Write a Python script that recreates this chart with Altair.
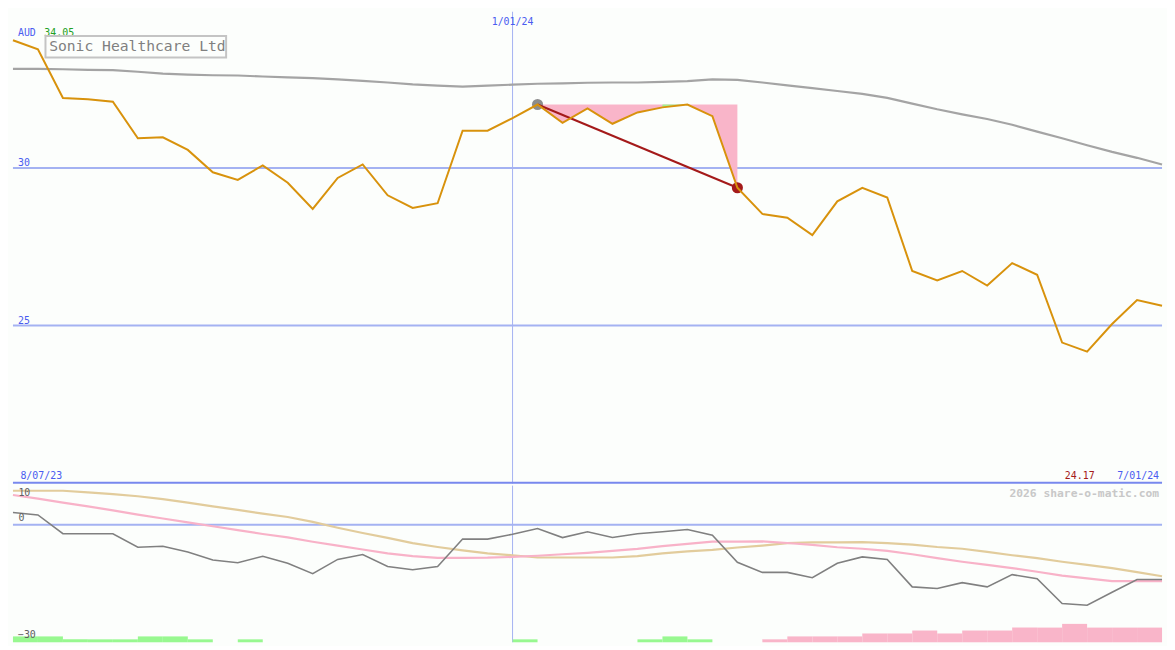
import altair as alt
import pandas as pd

# ---------------- data ----------------
idx = list(range(47))

price = [34.05, 33.76, 32.22, 32.18, 32.10, 30.94, 30.97, 30.57, 29.86, 29.62,
         30.08, 29.53, 28.70, 29.68, 30.11, 29.13, 28.73, 28.88, 31.18, 31.18,
         31.58, 32.01, 31.43, 31.89, 31.40, 31.76, 31.92, 32.01, 31.64, 29.37,
         28.54, 28.42, 27.87, 28.94, 29.37, 29.06, 26.73, 26.43, 26.73, 26.27,
         26.98, 26.61, 24.46, 24.17, 25.05, 25.81, 25.63]

long_ma = [33.14, 33.14, 33.13, 33.11, 33.10, 33.05, 32.99, 32.96, 32.94, 32.93,
           32.90, 32.87, 32.85, 32.81, 32.76, 32.71, 32.65, 32.61, 32.58, 32.61,
           32.64, 32.67, 32.68, 32.70, 32.71, 32.71, 32.73, 32.75, 32.81, 32.79,
           32.71, 32.62, 32.53, 32.44, 32.35, 32.22, 32.04, 31.86, 31.70, 31.55,
           31.37, 31.15, 30.94, 30.72, 30.51, 30.32, 30.11]

momentum = [3.16, 2.52, -2.27, -2.27, -2.27, -5.73, -5.48, -6.96, -9.01, -9.68,
            -8.02, -9.83, -12.47, -8.84, -7.60, -10.67, -11.48, -10.67, -3.65, -3.65,
            -2.42, -0.94, -3.26, -1.78, -3.26, -2.27, -1.78, -1.19, -2.67, -9.58,
            -12.15, -12.15, -13.53, -9.83, -8.20, -8.84, -15.85, -16.25, -14.77, -15.85,
            -12.72, -13.78, -20.12, -20.54, -17.23, -13.95, -13.95]

pink_ma = [7.60, 6.67, 5.68, 4.69, 3.70, 2.59, 1.60, 0.62, -0.37, -1.36,
           -2.35, -3.21, -4.32, -5.31, -6.30, -7.28, -8.02, -8.44, -8.44, -8.40,
           -8.20, -7.90, -7.53, -7.16, -6.67, -6.17, -5.43, -4.89, -4.32, -4.32,
           -4.25, -4.64, -5.14, -5.73, -6.12, -6.67, -7.53, -8.52, -9.43, -10.25,
           -11.06, -11.98, -12.96, -13.70, -14.37, -14.37, -14.37]

tan_ma = [8.69, 8.69, 8.69, 8.27, 7.85, 7.28, 6.54, 5.68, 4.69, 3.83,
          2.84, 1.98, 0.74, -0.74, -2.10, -3.33, -4.69, -5.68, -6.54, -7.28,
          -7.78, -8.35, -8.35, -8.35, -8.35, -8.02, -7.28, -6.79, -6.42, -5.80,
          -5.31, -4.69, -4.49, -4.49, -4.44, -4.69, -5.06, -5.68, -6.12, -6.91,
          -7.78, -8.52, -9.43, -10.25, -11.06, -12.10, -13.14]

# histogram at the foot of the lower panel (one bar per interval, + green / - pink)
bar_val = [1.5, 1.5, 0.75, 0.75, 0.75, 1.5, 1.5, 0.75, 0, 0.75,
           0, 0, 0, 0, 0, 0, 0, 0, 0, 0,
           0.75, 0, 0, 0, 0, 0.75, 1.5, 0.75, 0, 0,
           -0.75, -1.5, -1.5, -1.5, -2.25, -2.25, -3.0, -2.25, -3.0, -3.0,
           -3.75, -3.75, -4.7, -3.75, -3.75, -3.75]

grid_levels = [30, 25]
peak_i, trough_i = 21, 29
date_mid_i = 20
date_mid = "1/01/24"
date_start = "8/07/23"
date_end = "7/01/24"
low_label = "24.17"
high_label = "34.05"
title = "Sonic Healthcare Ltd"

# ---------------- layout ----------------
W = 1159
H_TOP = 476
H_BOT = 158
FONT = "DejaVu Sans Mono"
BG = "#fcfefc"

xs = alt.Scale(domain=[0, 46], nice=False, zero=False, padding=0)
ys_top = alt.Scale(domain=[19.985, 34.954], nice=False, zero=False)
ys_bot = alt.Scale(domain=[-30, 10], nice=False, zero=False)

top_df = pd.DataFrame({"i": idx, "price": price, "ma": long_ma})
dd = top_df.iloc[peak_i:trough_i + 1].copy()
dd["peak"] = price[peak_i]
dd_green = dd[(dd["i"] >= 26) & (dd["i"] <= 27)]
ends = pd.DataFrame({"i": [peak_i, trough_i],
                     "price": [price[peak_i], price[trough_i]],
                     "c": ["#8c8c8c", "#a41a1a"]})
vline = pd.DataFrame({"i": [date_mid_i]})
grid = pd.DataFrame({"lvl": grid_levels, "t": [str(v) for v in grid_levels]})
one = pd.DataFrame({"k": [0]})

X = alt.X("i:Q", scale=xs, axis=None)


def label(txt, x, y, color, size=10, align="left", weight="normal"):
    return alt.Chart(one).mark_text(
        text=txt, align=align, baseline="alphabetic", font=FONT,
        fontSize=size, color=color, fontWeight=weight
    ).encode(x=alt.value(x), y=alt.value(y))


top_layers = [
    alt.Chart(grid).mark_rule(color="#a4b2f2", strokeWidth=2).encode(
        y=alt.Y("lvl:Q", scale=ys_top, axis=None)),
    alt.Chart(grid).mark_text(align="left", baseline="alphabetic", dy=-2, font=FONT,
                              fontSize=10, color="#4a5cf0").encode(
        x=alt.value(5), y=alt.Y("lvl:Q", scale=ys_top, axis=None), text="t:N"),
    alt.Chart(vline).mark_rule(color="#a4b2f2", strokeWidth=1).encode(x=X),
    alt.Chart(vline).mark_text(text=date_mid, align="center", baseline="alphabetic",
                               font=FONT, fontSize=10, color="#4a5cf0").encode(
        x=X, y=alt.value(13)),
    alt.Chart(dd).mark_area(color="#f9b5c9", opacity=1).encode(
        x=X, y=alt.Y("peak:Q", scale=ys_top, axis=None), y2="price:Q"),
    alt.Chart(dd_green).mark_area(color="#a0f294", opacity=1).encode(
        x=X, y=alt.Y("peak:Q", scale=ys_top, axis=None), y2="price:Q"),
    alt.Chart(top_df).mark_line(color="#a4a4a4", strokeWidth=2.2).encode(
        x=X, y=alt.Y("ma:Q", scale=ys_top, axis=None)),
    alt.Chart(ends).mark_circle(size=125, opacity=1).encode(
        x=X, y=alt.Y("price:Q", scale=ys_top, axis=None),
        color=alt.Color("c:N", scale=None)),
    alt.Chart(ends).mark_line(color="#a41a1a", strokeWidth=2).encode(
        x=X, y=alt.Y("price:Q", scale=ys_top, axis=None)),
    alt.Chart(top_df).mark_line(color="#d8920c", strokeWidth=2).encode(
        x=X, y=alt.Y("price:Q", scale=ys_top, axis=None)),
    # separator between the two panels
    alt.Chart(one).mark_rule(color="#7888ee", strokeWidth=2).encode(y=alt.value(475)),
    label("AUD", 5, 24.4, "#4a5cf0"),
    label(high_label, 31.6, 24.4, "#22a022"),
    alt.Chart(one).mark_rect(fill=BG, stroke="#c4c4c4", strokeWidth=2).encode(
        x=alt.value(32.8), x2=alt.value(215), y=alt.value(24.6), y2=alt.value(46.2)),
    label(title, 36.5, 39.8, "#808080", size=14.8),
    label(date_start, 7.5, 471.2, "#4a5cf0"),
    label(low_label, 1091, 471.2, "#a41a1a", align="right"),
    label(date_end, 1156, 471.2, "#4a5cf0", align="right"),
]
top = alt.layer(*top_layers).properties(width=W, height=H_TOP)

bot_df = pd.DataFrame({"i": idx, "mom": momentum, "pink": pink_ma, "tan": tan_ma})
bars = pd.DataFrame({"i": idx[:-1], "i2": idx[1:], "v": bar_val})
bars = bars[bars["v"] != 0].copy()
bars["base"] = -30
bars["top"] = -30 + bars["v"].abs()
bars["c"] = ["#98f890" if v > 0 else "#f9b5c9" for v in bars["v"]]
zero = pd.DataFrame({"lvl": [0]})

bot_layers = [
    alt.Chart(zero).mark_rule(color="#a4b2f2", strokeWidth=2).encode(
        y=alt.Y("lvl:Q", scale=ys_bot, axis=None)),
    alt.Chart(vline).mark_rule(color="#a4b2f2", strokeWidth=1).encode(x=X),
    alt.Chart(bars).mark_rect(opacity=1).encode(
        x=X, x2="i2:Q", y=alt.Y("base:Q", scale=ys_bot, axis=None), y2="top:Q",
        color=alt.Color("c:N", scale=None)),
    alt.Chart(bot_df).mark_line(color="#e2cc9c", strokeWidth=2.2).encode(
        x=X, y=alt.Y("tan:Q", scale=ys_bot, axis=None)),
    alt.Chart(bot_df).mark_line(color="#f8b2c8", strokeWidth=2.2).encode(
        x=X, y=alt.Y("pink:Q", scale=ys_bot, axis=None)),
    alt.Chart(bot_df).mark_line(color="#808080", strokeWidth=1.6).encode(
        x=X, y=alt.Y("mom:Q", scale=ys_bot, axis=None)),
    label("10", 5.5, 10.7, "#606060"),
    label("0", 5.5, 36, "#606060"),
    label("\u221230", 5, 153.5, "#606060"),
    label("2026 share-o-matic.com", 1156, 11.7, "#c8c8c8", size=11.4,
          align="right", weight="bold"),
]
bot = alt.layer(*bot_layers).properties(width=W, height=H_BOT)

chart = alt.vconcat(top, bot, spacing=0).properties(
    padding=0, background=BG
).configure_view(stroke=None)

chart.save("out.html", embed_options={"renderer": "svg", "actions": False})
